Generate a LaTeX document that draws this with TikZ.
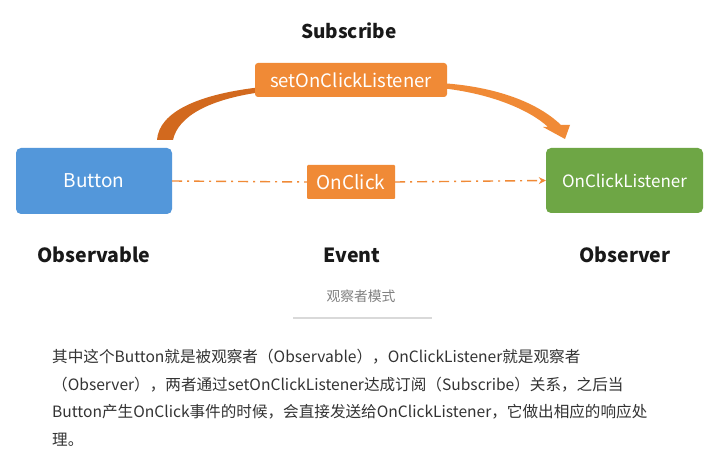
\documentclass[tikz,border=0pt]{standalone}
\usepackage{fontspec}
\newfontfamily\cjk{Noto Sans CJK SC}
\usetikzlibrary{arrows.meta}
\definecolor{btnblue}{HTML}{5397DA}
\definecolor{lgreen}{HTML}{6EA645}
\definecolor{orng}{HTML}{F08A36}
\definecolor{dorng}{HTML}{D2691E}
\definecolor{txt}{HTML}{333333}
\pgfdeclarelayer{bg}
\pgfdeclarelayer{paper}
\pgfsetlayers{paper,bg,main}
\begin{document}
\begin{tikzpicture}[x=1pt,y=-1pt,font=\cjk,
  box/.style={rounded corners=5pt,text=white,inner sep=0pt},
  heading/.style={font=\cjk\bfseries\fontsize{19.5}{23}\selectfont,text=black!90},
  para/.style={anchor=west,font=\cjk\fontsize{15.6}{18}\selectfont,text=txt,inner sep=0pt},
  dashdot/.style={orng,line width=1.4pt,dash pattern=on 10pt off 5pt on 2pt off 5pt}]
\begin{pgfonlayer}{paper}
\fill[white] (0,0) rectangle (718,457);
\end{pgfonlayer}
\useasboundingbox (0,0) rectangle (718,457);
% nodes
\node[heading,font=\cjk\bfseries\fontsize{19}{23}\selectfont] (subh) at (349,31) {Subscribe};
\node[box,fill=btnblue,minimum width=156pt,minimum height=66pt,font=\cjk\fontsize{19}{22}\selectfont] (btn) at (94,181) {Button};
\node[box,fill=lgreen,minimum width=157pt,minimum height=65pt,font=\cjk\fontsize{17}{20}\selectfont] (lst) at (624.5,180.5) {OnClickListener};
\node[box,fill=orng,rounded corners=3pt,minimum width=192pt,minimum height=34pt,font=\cjk\fontsize{18.5}{22}\selectfont] (sub) at (351,80) {setOnClickListener};
\node[box,fill=orng,rounded corners=1pt,minimum width=88pt,minimum height=34pt,font=\cjk\fontsize{19}{22}\selectfont] (ev) at (351,182) {OnClick};
% tapered curved arrow (shape)
\begin{pgfonlayer}{bg}
\fill[dorng] (157,140) .. controls (159,112) and (198,94) .. (262,87)
  -- (262,92) .. controls (210,99) and (178,116) .. (173,140) -- cycle;
\fill[orng] (440,83) .. controls (490,86) and (535,100) .. (561,125)
  -- (570,125) -- (565,139) -- (543,127) -- (548,127)
  .. controls (530,110) and (490,93) .. (440,88) -- cycle;
\end{pgfonlayer}
\draw[dashdot] (btn.east) -- (ev.west);
\draw[dashdot,-{Stealth[length=7pt,width=7pt]}] (ev.east) -- (lst.west);
\node[heading] (obs) at (94,255) {Observable};
\node[heading] (evh) at (352,255) {Event};
\node[heading] (obr) at (625,255) {Observer};
\node[font=\cjk\fontsize{13.8}{16}\selectfont,text=black!50] (cap) at (361,296) {观察者模式};
\coordinate (l1) at (293,318);
\coordinate (l2) at (432,318);
\draw[black!15,line width=1pt] (l1) -- (l2);
\node[para] (p1) at (52,357) {其中这个Button就是被观察者（Observable），OnClickListener就是观察者};
\node[para] (p2) at (52,385) {（Observer），两者通过setOnClickListener达成订阅（Subscribe）关系，之后当};
\node[para] (p3) at (52,412) {Button产生OnClick事件的时候，会直接发送给OnClickListener，它做出相应的响应处};
\node[para] (p4) at (52,440) {理。};
\end{tikzpicture}
\end{document}
